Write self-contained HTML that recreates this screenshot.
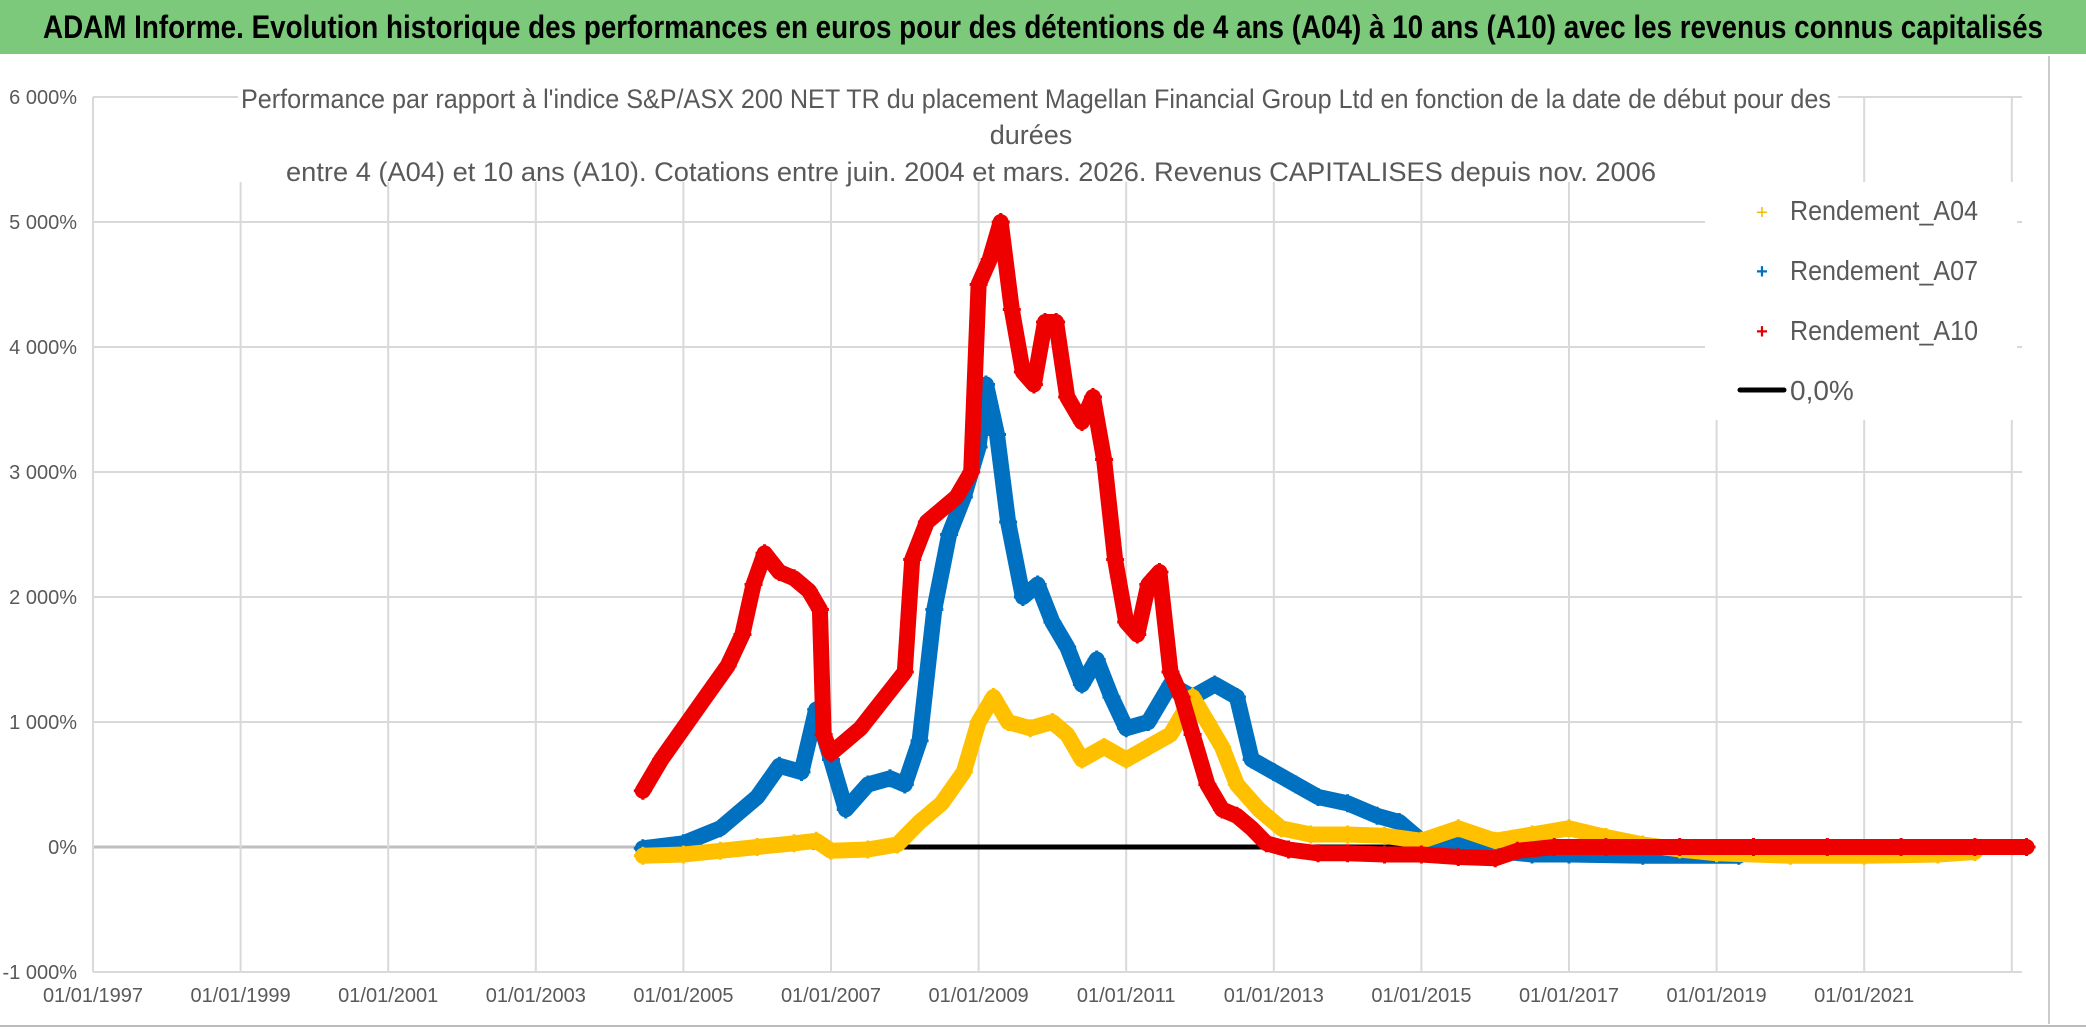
<!DOCTYPE html>
<html><head><meta charset="utf-8"><style>
html,body{margin:0;padding:0;background:#fff;}
svg{display:block;font-family:"Liberation Sans Narrow","Liberation Sans",sans-serif;}
</style></head><body>
<svg id="chart" width="2086" height="1031" viewBox="0 0 2086 1031" xmlns="http://www.w3.org/2000/svg">
<rect x="0" y="0" width="2086" height="1031" fill="#fff"/>
<rect x="0" y="0" width="2086" height="54" fill="#7dc97c"/>
<text x="1043" y="38" text-anchor="middle" font-size="32" font-weight="bold" fill="#000" textLength="2000" lengthAdjust="spacingAndGlyphs">ADAM Informe. Evolution historique des performances en euros pour des détentions de 4 ans (A04) à 10 ans (A10) avec les revenus connus capitalisés</text>
<line x1="0" y1="1026" x2="2086" y2="1026" stroke="#bbb" stroke-width="2"/>
<line x1="2049" y1="56" x2="2049" y2="1024" stroke="#ccc" stroke-width="2"/>
<g id="grid"></g>
<g id="axes"></g>
<g id="series"></g>
<rect x="238" y="82" width="1600" height="100" fill="#fff"/>
<g fill="#595959" font-size="27">
<text x="1036" y="108" text-anchor="middle" textLength="1590" lengthAdjust="spacingAndGlyphs">Performance par rapport à l'indice S&amp;P/ASX 200 NET TR  du placement Magellan Financial Group Ltd en fonction de la date de début pour des</text>
<text x="1031" y="144" text-anchor="middle">durées</text>
<text x="971" y="181" text-anchor="middle" textLength="1370" lengthAdjust="spacingAndGlyphs">entre 4 (A04) et 10 ans (A10). Cotations entre juin. 2004 et mars. 2026. Revenus CAPITALISES depuis nov. 2006</text>
</g>
<g>
<rect x="1705" y="182" width="312" height="238" fill="#fff"/>
<g><text x="1762" y="219" text-anchor="middle" font-size="20" fill="#f5b800">+</text><text x="1790" y="220" font-size="28" fill="#595959" textLength="188" lengthAdjust="spacingAndGlyphs">Rendement_A04</text></g>
<g><text x="1762" y="278" text-anchor="middle" font-size="20" font-weight="bold" fill="#0070c0">+</text><text x="1790" y="280" font-size="28" fill="#595959" textLength="188" lengthAdjust="spacingAndGlyphs">Rendement_A07</text></g>
<g><text x="1762" y="338" text-anchor="middle" font-size="20" font-weight="bold" fill="#e00000">+</text><text x="1790" y="340" font-size="28" fill="#595959" textLength="188" lengthAdjust="spacingAndGlyphs">Rendement_A10</text></g>
<g><line x1="1740" y1="390" x2="1784" y2="390" stroke="#000" stroke-width="5" stroke-linecap="round"/><text x="1790" y="400" font-size="28" fill="#595959">0,0%</text></g>
</g>
</svg>
<script>
const yTicks = [-1000, 0, 1000, 2000, 3000, 4000, 5000, 6000];
const yTickLabels = ["-1 000%", "0%", "1 000%", "2 000%", "3 000%", "4 000%", "5 000%", "6 000%"];
const xTicks = [1997, 1999, 2001, 2003, 2005, 2007, 2009, 2011, 2013, 2015, 2017, 2019, 2021];
const xTickLabels = ["01/01/1997","01/01/1999","01/01/2001","01/01/2003","01/01/2005","01/01/2007","01/01/2009","01/01/2011","01/01/2013","01/01/2015","01/01/2017","01/01/2019","01/01/2021"];

const datesA10 = [2004.45,2004.7,2005.0,2005.3,2005.6,2005.8,2005.95,2006.1,2006.3,2006.5,2006.7,2006.85,2006.9,2007.0,2007.2,2007.4,2007.6,2007.8,2008.0,2008.1,2008.3,2008.5,2008.7,2008.9,2009.0,2009.15,2009.3,2009.45,2009.6,2009.75,2009.9,2010.05,2010.2,2010.4,2010.55,2010.7,2010.85,2011.0,2011.15,2011.3,2011.45,2011.6,2011.75,2011.9,2012.1,2012.3,2012.5,2012.7,2012.9,2013.2,2013.6,2014.0,2014.5,2015.0,2015.5,2016.0,2016.3,2016.8,2017.5,2018.5,2019.5,2020.5,2021.5,2022.5,2023.2];
const valuesA10 = [450,700,950,1200,1450,1700,2100,2350,2200,2150,2050,1900,900,750,850,950,1100,1250,1400,2300,2600,2700,2800,3000,4500,4700,5000,4300,3800,3700,4200,4200,3600,3400,3600,3100,2300,1800,1700,2100,2200,1400,1200,900,500,300,250,150,30,-20,-50,-50,-60,-60,-80,-90,-30,0,0,0,0,0,0,0,0];

const datesA07 = [2004.45,2005.0,2005.5,2006.0,2006.3,2006.6,2006.8,2007.0,2007.2,2007.5,2007.8,2008.0,2008.2,2008.4,2008.6,2008.8,2009.0,2009.1,2009.25,2009.4,2009.6,2009.8,2010.0,2010.2,2010.4,2010.6,2010.8,2011.0,2011.3,2011.6,2011.9,2012.2,2012.5,2012.7,2013.0,2013.3,2013.6,2014.0,2014.4,2014.7,2015.0,2015.5,2016.0,2016.5,2017.0,2018.0,2019.3];
const valuesA07 = [-10,30,150,400,650,600,1100,700,300,500,550,500,850,1900,2500,2800,3200,3700,3300,2600,2000,2100,1800,1600,1300,1500,1200,950,1000,1300,1200,1300,1200,700,600,500,400,350,250,200,50,30,-30,-60,-60,-70,-70];

const datesA04 = [2004.45,2005.0,2005.5,2006.0,2006.5,2006.8,2007.0,2007.5,2007.9,2008.2,2008.5,2008.8,2009.0,2009.2,2009.4,2009.7,2010.0,2010.2,2010.4,2010.7,2011.0,2011.3,2011.6,2011.9,2012.1,2012.3,2012.5,2012.8,2013.1,2013.5,2014.0,2014.5,2015.0,2015.5,2016.0,2016.5,2017.0,2017.5,2018.0,2018.5,2019.0,2020.0,2021.0,2022.0,2022.5];
const valuesA04 = [-70,-60,-30,0,30,50,-30,-20,20,200,350,600,1000,1200,1000,950,1000,900,700,800,700,800,900,1200,1000,800,500,300,150,100,100,90,50,150,50,100,150,80,20,-20,-50,-70,-70,-60,-40];

const zeroDates = [2004.45, 2023.2];
const zeroValues = [0, 0];

const X0 = 93, PX_PER_YEAR = 73.8, Y0 = 847, PX_PER_PCT = 0.125;
function xScale(t){ return X0 + (t - 1997) * PX_PER_YEAR; }
function yScale(v){ return Y0 - v * PX_PER_PCT; }
const NS = "http://www.w3.org/2000/svg";
function mk(tag, attrs, parent){ const e = document.createElementNS(NS, tag); for (const k in attrs) e.setAttribute(k, attrs[k]); parent.appendChild(e); return e; }

const grid = document.getElementById('grid');
const axes = document.getElementById('axes');
const plotRight = 2022, plotTop = yScale(6000), plotBottom = yScale(-1000);
yTicks.forEach((v, i) => {
  const l = mk('line', {x1: xScale(1997), x2: plotRight, y1: yScale(v), y2: yScale(v), stroke: v === 0 ? '#bfbfbf' : '#d9d9d9', 'stroke-width': v === 0 ? 3 : 2}, grid);
  
  
  const t = mk('text', {x: 77, y: yScale(v) + 7, 'text-anchor': 'end', 'font-size': 20, fill: '#595959'}, axes);
  t.textContent = yTickLabels[i];
  
  
});
xTicks.forEach((yr, i) => {
  const l = mk('line', {x1: xScale(yr), x2: xScale(yr), y1: plotTop, y2: plotBottom, stroke: '#d9d9d9', 'stroke-width': 2}, grid);
  
  
  const t = mk('text', {x: xScale(yr), y: 1002, 'text-anchor': 'middle', 'font-size': 20, fill: '#595959'}, axes);
  t.textContent = xTickLabels[i];
  
  
});
[2023].forEach(yr => {
  const l = mk('line', {x1: xScale(yr), x2: xScale(yr), y1: plotTop, y2: plotBottom, stroke: '#d9d9d9', 'stroke-width': 2}, grid);
  
  
});

const seriesG = document.getElementById('series');
function drawSeries(dates, vals, color, name){
  const g = mk('g', {}, seriesG);
  
  
  const pts = dates.map((d, i) => xScale(d).toFixed(1) + ',' + yScale(vals[i]).toFixed(1)).join(' ');
  const pl = mk('polyline', {points: pts, fill: 'none', stroke: color, 'stroke-width': 16, 'stroke-linejoin': 'round', 'stroke-linecap': 'round'}, g);
  
  
  dates.forEach((d, i) => {
    const x = xScale(d), y = yScale(vals[i]);
    const p = mk('path', {d: `M${x-9},${y}H${x+9}M${x},${y-9}V${y+9}`, stroke: color, 'stroke-width': 3}, g);
    
    
  });
}
(function(){
  const g = mk('g', {}, seriesG);
  
  
  mk('line', {x1: xScale(zeroDates[0]), x2: xScale(zeroDates[1]), y1: yScale(zeroValues[0]), y2: yScale(zeroValues[1]), stroke: '#000', 'stroke-width': 5}, g);
})();
drawSeries(datesA07, valuesA07, '#0070c0', 'series-a07');
drawSeries(datesA04, valuesA04, '#ffc000', 'series-a04');
drawSeries(datesA10, valuesA10, '#ee0000', 'series-a10');
</script>
</body></html>
